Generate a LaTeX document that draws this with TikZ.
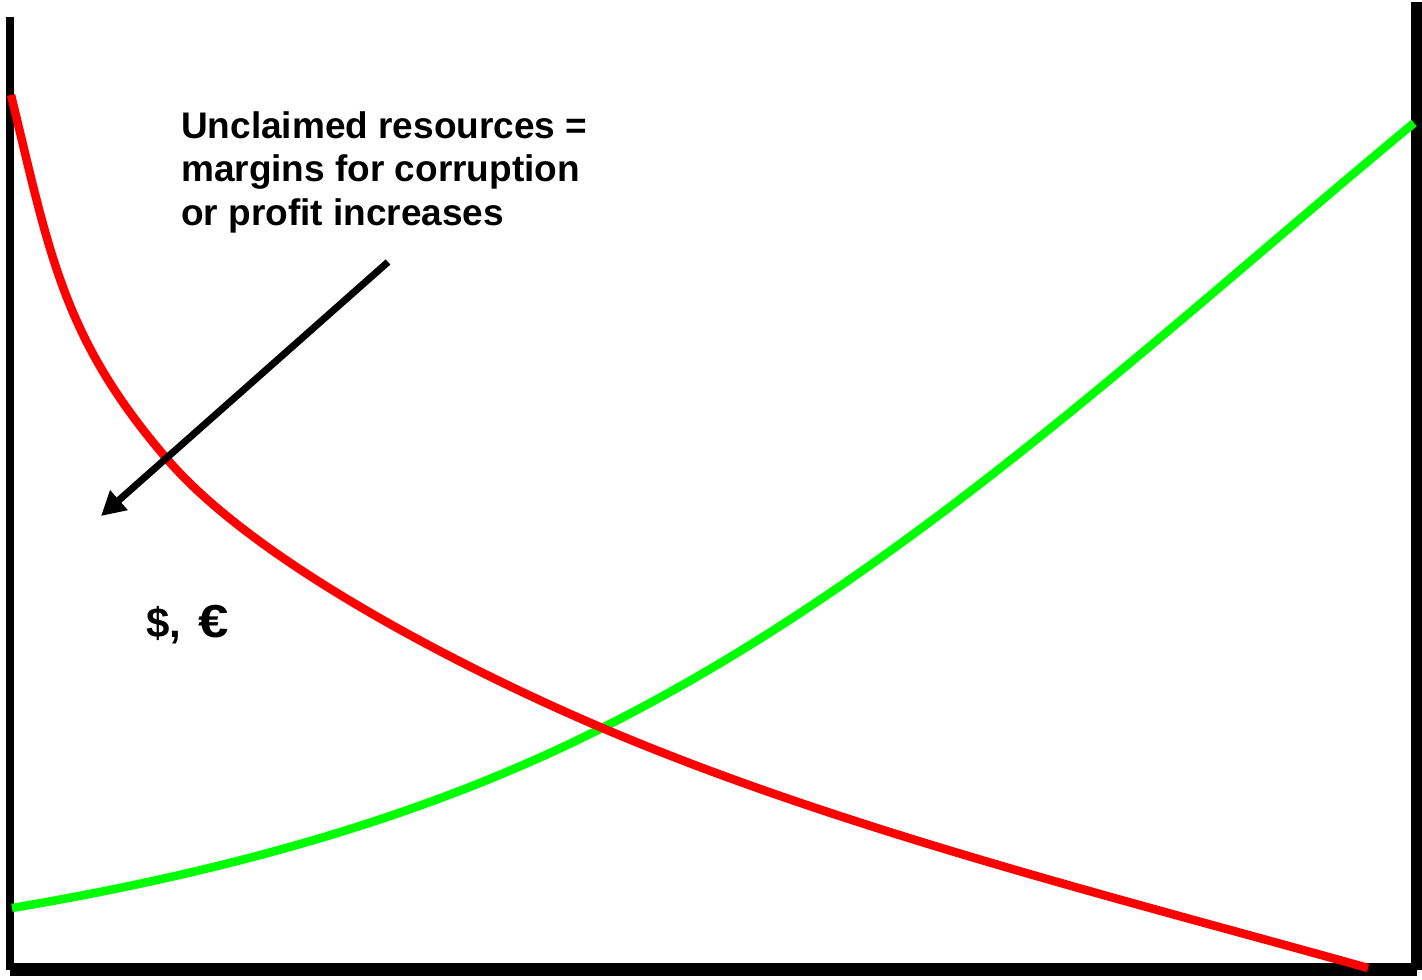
\documentclass[tikz,border=0pt]{standalone}
\usepackage{fontspec}
\setmainfont{Liberation Sans}
\usetikzlibrary{arrows.meta}
\tikzset{
	bigtext/.style={font=\fontsize{37}{43.5}\selectfont\bfseries, inner sep=0pt},
	curve/.style={line width=8.5pt}
}
\begin{document}
\begin{tikzpicture}[x=1pt,y=-1pt]
			\useasboundingbox (0,0) rectangle (1422,980);
			\draw [line width=8pt] (10,17)-- (10,970);
			\draw [line width=13pt] (10,969.5)-- (1417,969.5);
			\draw [line width=11pt] (1416.5,2)-- (1416.5,970);
			\draw [curve, color={rgb,255:red,0;green,255;blue,0}] (12,908) .. controls (214,874) and (417,821) .. (600,729) .. controls (904,577) and (1152,340) .. (1414,123);
			\draw [curve, color={rgb,255:red,255;green,0;blue,0}] (11,95) .. controls (50,255) and (63,338) .. (167,459) .. controls (258,565) and (471,672) .. (600,727) .. controls (839,829) and (1118,898) .. (1368,968);
			\node (note) [bigtext, anchor=base west, align=left] at (181,225) {Unclaimed resources =\\margins for corruption\\or profit increases};
			\node (money) [bigtext, font=\fontsize{42}{48}\selectfont\bfseries, anchor=base west] at (146,637) {\$,\hspace{0.4em}\scalebox{1.3}[1.1]{€}};
			\coordinate (tail) at (388,262);
			\coordinate (tip) at (101,516);
			\draw [line width=7pt, -{Triangle[length=24pt,width=25pt]}] (tail)-- (tip);
		\end{tikzpicture}
\end{document}
